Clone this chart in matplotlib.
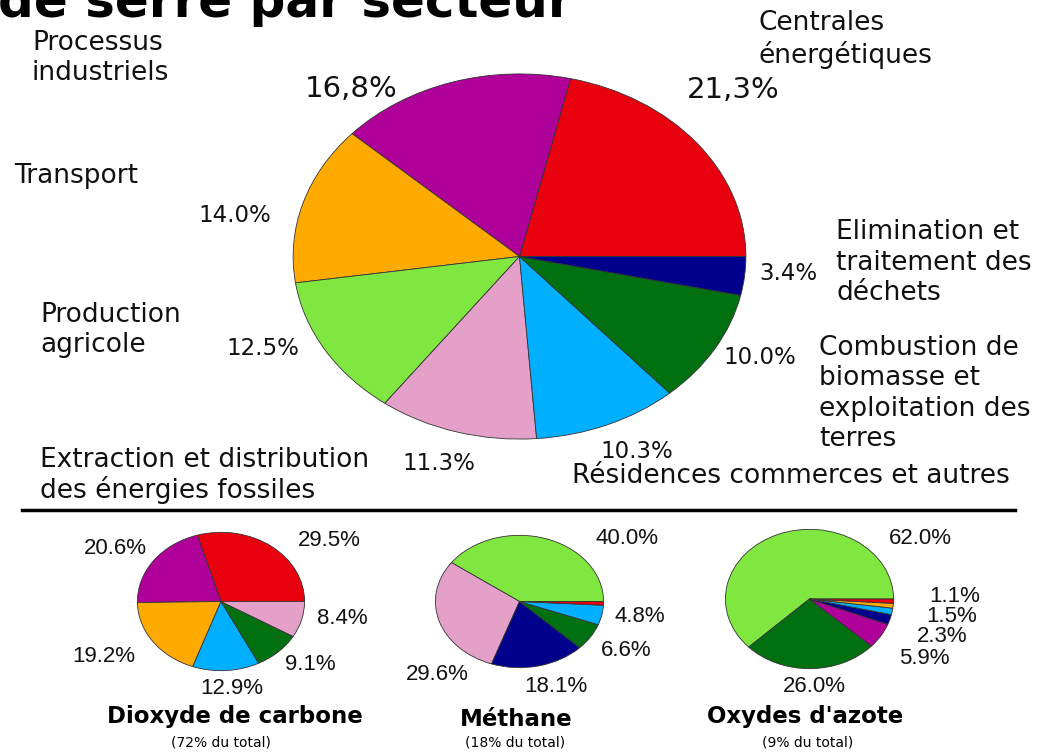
import matplotlib
matplotlib.use('Agg')
import matplotlib.pyplot as plt

W, H = 1062, 753

# secteurs (couleurs communes aux quatre camemberts)
colors = {
    'centrales': '#e8000e',
    'industrie': '#b0009a',
    'transport': '#ffaa00',
    'agricole': '#80e640',
    'extraction': '#e4a0c8',
    'residences': '#00b0ff',
    'biomasse': '#007010',
    'dechets': '#00008c',
}

main_keys = ['centrales', 'industrie', 'transport', 'agricole',
             'extraction', 'residences', 'biomasse', 'dechets']
main_vals = [21.3, 16.8, 14.0, 12.5, 11.3, 10.3, 10.0, 3.4]

co2_keys = ['centrales', 'industrie', 'transport', 'residences', 'biomasse', 'extraction']
co2_vals = [29.5, 20.6, 19.2, 12.9, 9.1, 8.4]

ch4_keys = ['agricole', 'extraction', 'dechets', 'biomasse', 'residences', 'centrales']
ch4_vals = [40.0, 29.6, 18.1, 6.6, 4.8, 0.9]

n2o_keys = ['agricole', 'biomasse', 'industrie', 'dechets', 'residences', 'transport', 'centrales']
n2o_vals = [62.0, 26.0, 5.9, 2.3, 1.5, 1.1, 1.0]


def px(x, y):
    return x / W, 1 - y / H


def draw_pie(x0, y0, x1, y1, keys, vals):
    ax = fig.add_axes([x0 / W, 1 - y1 / H, (x1 - x0) / W, (y1 - y0) / H])
    ax.pie(vals, colors=[colors[k] for k in keys], startangle=0,
           counterclock=True,
           wedgeprops={'edgecolor': '#333333', 'linewidth': 0.6})
    ax.set_aspect('auto')
    ax.set_xlim(-1.005, 1.005)
    ax.set_ylim(-1.005, 1.005)
    ax.axis('off')
    return ax


fig = plt.figure(figsize=(W / 100, H / 100), dpi=100)
fig.patch.set_facecolor('white')

# titre (coupé en haut comme sur l'original)
fig.text(*px(-2, 17), 'de serre par secteur', fontsize=36, fontweight='bold',
         family='DejaVu Sans', va='baseline', ha='left')

draw_pie(292, 73, 747, 440, main_keys, main_vals)
draw_pie(137, 532, 305, 671, co2_keys, co2_vals)
draw_pie(435, 535, 604, 668, ch4_keys, ch4_vals)
draw_pie(725, 529, 894, 669, n2o_keys, n2o_vals)

# ligne de séparation
fig.add_artist(plt.Line2D([22 / W, 1015 / W], [1 - 510 / H, 1 - 510 / H],
                          color='black', linewidth=2.5))

lab = dict(fontsize=19, family='DejaVu Sans', color='#111111',
           linespacing=1.22, va='baseline', ha='left')
pct = dict(fontsize=16.5, family='DejaVu Sans', color='#111111',
           va='baseline', ha='center')
big = dict(fontsize=21, family='DejaVu Sans', color='#111111',
           va='baseline', ha='center')

fig.text(*px(32, 80), 'Processus\nindustriels', **lab)
fig.text(*px(351, 97), '16,8%', **big)
fig.text(*px(758, 63), 'Centrales\nénergétiques', **lab)
fig.text(*px(733, 98), '21,3%', **big)
fig.text(*px(14, 183), 'Transport', **lab)
fig.text(*px(235, 222), '14.0%', **pct)
fig.text(*px(836, 300), 'Elimination et\ntraitement des\ndéchets', **lab)
fig.text(*px(788, 280), '3.4%', **pct)
fig.text(*px(40, 352), 'Production\nagricole', **lab)
fig.text(*px(263, 355), '12.5%', **pct)
fig.text(*px(760, 364), '10.0%', **pct)
fig.text(*px(819, 446), 'Combustion de\nbiomasse et\nexploitation des\nterres', **lab)
fig.text(*px(637, 458), '10.3%', **pct)
fig.text(*px(40, 498), 'Extraction et distribution\ndes énergies fossiles',
         **dict(lab, linespacing=1.15))
fig.text(*px(402, 470), '11.3%', **dict(pct, ha='left'))
fig.text(*px(572, 483), 'Résidences commerces et autres', **lab)

sm = dict(fontsize=16, family='Liberation Sans', color='#111111', va='center', ha='center')
# CO2
fig.text(*px(115, 548), '20.6%', **sm)
fig.text(*px(329, 541), '29.5%', **sm)
fig.text(*px(342, 619), '8.4%', **sm)
fig.text(*px(104, 656), '19.2%', **sm)
fig.text(*px(310, 665), '9.1%', **sm)
fig.text(*px(232, 689), '12.9%', **sm)
# CH4
fig.text(*px(627, 539), '40.0%', **sm)
fig.text(*px(640, 616), '4.8%', **sm)
fig.text(*px(626, 650), '6.6%', **sm)
fig.text(*px(437, 675), '29.6%', **sm)
fig.text(*px(556, 686), '18.1%', **sm)
# N2O
fig.text(*px(920, 539), '62.0%', **sm)
fig.text(*px(955, 597), '1.1%', **sm)
fig.text(*px(952, 616), '1.5%', **sm)
fig.text(*px(942, 637), '2.3%', **sm)
fig.text(*px(924, 659), '5.9%', **sm)
fig.text(*px(814, 686), '26.0%', **sm)

bt = dict(fontsize=16.5, fontweight='bold', family='DejaVu Sans', va='center', ha='center')
fig.text(*px(235, 717), 'Dioxyde de carbone', **bt)
fig.text(*px(516, 719), 'Méthane', **bt)
fig.text(*px(805, 717), "Oxydes d'azote", **bt)

st = dict(fontsize=10, family='DejaVu Sans', va='center', ha='center')
fig.text(*px(221, 743), '(72% du total)', **st)
fig.text(*px(515, 743), '(18% du total)', **st)
fig.text(*px(808, 743), '(9% du total)', **st)

fig.savefig('out.png', dpi=100, facecolor='white')
